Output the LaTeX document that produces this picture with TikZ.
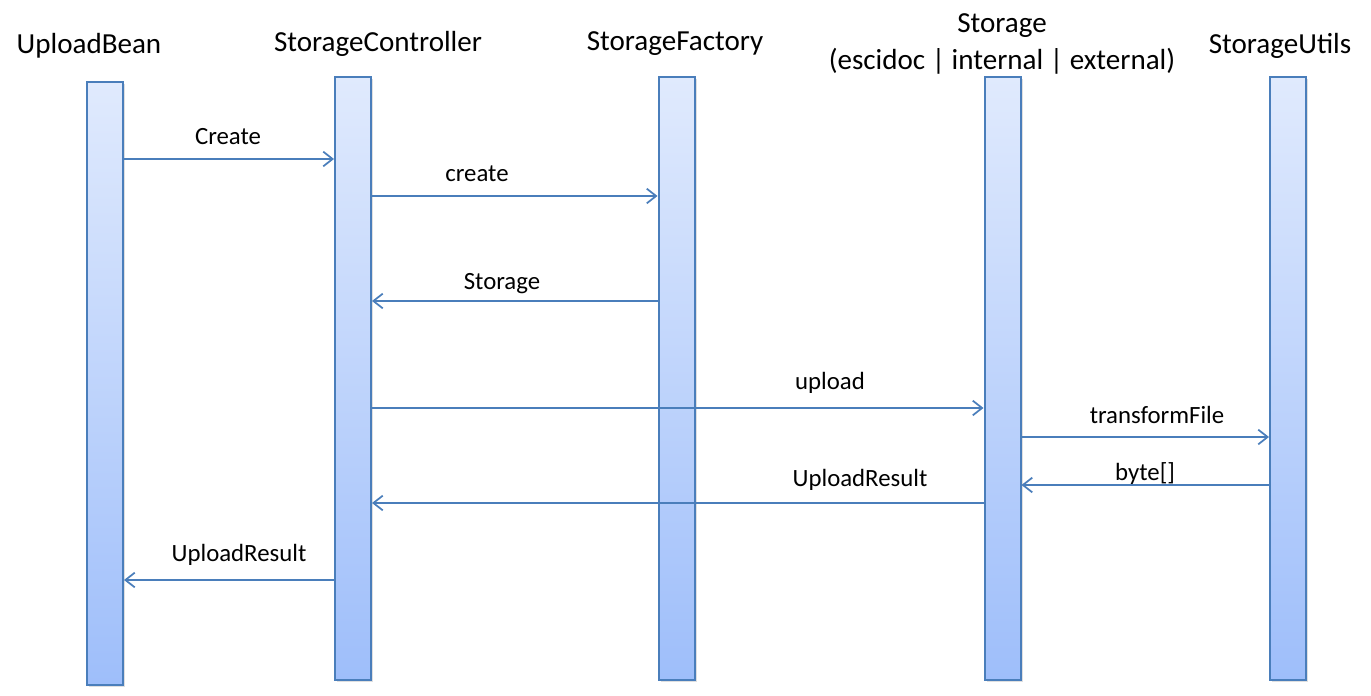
\documentclass[tikz,border=0pt]{standalone}
\usepackage{fontspec}
\setmainfont{Carlito}
\usetikzlibrary{arrows.meta, shadows}

\definecolor{lineblue}{RGB}{74,126,187}
\definecolor{bartop}{RGB}{224,234,253}
\definecolor{barbottom}{RGB}{158,190,250}

\tikzset{
  lifebar/.style={draw=lineblue, line width=1.5pt, top color=bartop, bottom color=barbottom,
    minimum width=27pt, minimum height=452pt, inner sep=0pt,
    drop shadow={shadow xshift=1.5pt, shadow yshift=-1.5pt, opacity=0.25}},
  msg/.style={draw=lineblue, line width=1.3pt, -{Straight Barb[length=7pt,width=11pt]}},
  title/.style={font=\fontsize{21.8}{27.5}\selectfont, align=center},
  lbl/.style={font=\fontsize{18.6}{22}\selectfont}
}

\begin{document}
\begin{tikzpicture}[x=0.75pt,y=-0.75pt]
\useasboundingbox (0,0) rectangle (1371,696);

% lifelines
\node[lifebar] (bean) at (105,383.5) {};
\node[lifebar] (ctrl) at (353,378.5) {};
\node[lifebar] (fact) at (676.5,378.5) {};
\node[lifebar] (stor) at (1002.5,378.5) {};
\node[lifebar] (util) at (1288,378.5) {};

\node[title] (tbean) at (89,46) {UploadBean};
\node[title] (tctrl) at (378,44) {StorageController};
\node[title] (tfact) at (675,44) {StorageFactory};
\node[title] (tstor) at (1002,44) {Storage\\(escidoc | internal | external)};
\node[title] (tutil) at (1280,46) {StorageUtils};

% messages
\draw[msg] (bean.east |- 0,159) -- (ctrl.west |- 0,159);
\node[lbl] at (228,137) {Create};

\draw[msg] (ctrl.east |- 0,196) -- (fact.west |- 0,196);
\node[lbl] at (477,174) {create};

\draw[msg] (fact.west |- 0,301) -- (ctrl.east |- 0,301);
\node[lbl] at (502,284) {Storage};

\draw[msg] (ctrl.east |- 0,408) -- (stor.west |- 0,408);
\node[lbl] at (830,383) {upload};

\draw[msg] (stor.east |- 0,437) -- (util.west |- 0,437);
\node[lbl] at (1157,415) {transformFile};

\draw[msg] (util.west |- 0,485) -- (stor.east |- 0,485);
\node[lbl] at (1145,474) {byte[]};

\draw[msg] (stor.west |- 0,503) -- (ctrl.east |- 0,503);
\node[lbl] at (860,480) {UploadResult};

\draw[msg] (ctrl.west |- 0,580) -- (bean.east |- 0,580);
\node[lbl] at (239,555) {UploadResult};
\end{tikzpicture}
\end{document}
